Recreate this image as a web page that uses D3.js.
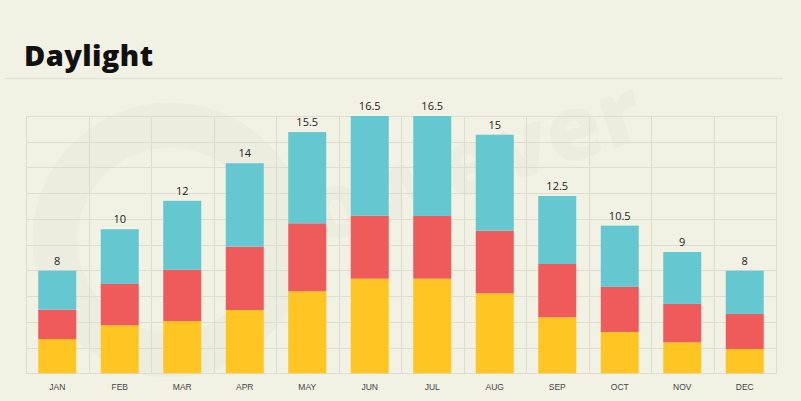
<!DOCTYPE html>
<html>
<head>
<meta charset="utf-8">
<script src="https://cdn.jsdelivr.net/npm/d3@7"></script>
<style>
  html, body { margin: 0; padding: 0; background: #F2F2E4; }
  svg { display: block; }
</style>
</head>
<body>
<svg id="chart" width="801" height="401"></svg>
<script>
// ---- data ----
const months = ["JAN","FEB","MAR","APR","MAY","JUN","JUL","AUG","SEP","OCT","NOV","DEC"];
const totalLabels = ["8","10","12","14","15.5","16.5","16.5","15","12.5","10.5","9","8"];
const seriesKeys = ["yellow","red","teal"];
const yellowValues = [2.2, 3.08, 3.35, 4.06, 5.26, 6.07, 6.07, 5.13, 3.59, 2.65, 1.99, 1.56];
const redValues    = [1.88, 2.65, 3.29, 4.06, 4.36, 4.04, 4.02, 4.01, 3.42, 2.89, 2.46, 2.24];
const tealValues   = [2.5, 3.51, 4.42, 5.35, 5.85, 6.39, 6.41, 6.16, 4.36, 3.93, 3.33, 2.78];
const yMax = 16.5;
const gridCount = 10;

const colors = { yellow: "#FFC522", red: "#EF5B5B", teal: "#65C8D1" };

const rows = months.map((m, i) => ({
  month: m, label: totalLabels[i],
  yellow: yellowValues[i], red: redValues[i], teal: tealValues[i]
}));

const svg = d3.select("#chart");

// faint watermark
const wm = svg.append("g");
wm.append("circle").attr("cx", 170).attr("cy", 240).attr("r", 115)
  .attr("fill", "none").attr("stroke", "#EDEDDF").attr("stroke-width", 45);
wm.append("text").attr("x", 455).attr("y", 200)
  .attr("transform", "rotate(-18,455,200)")
  .attr("text-anchor", "middle")
  .attr("font-family", "'Open Sans', sans-serif")
  .attr("font-weight", 800).attr("font-size", 90)
  .attr("fill", "#EDEDDF").text("nowever");

// title
svg.append("text").attr("x", 24).attr("y", 66)
  .attr("font-family", "'Open Sans', sans-serif").attr("font-weight", 800)
  .attr("font-size", 29).attr("letter-spacing", 0.4).attr("fill", "#111").text("Daylight");
svg.append("line").attr("x1", 5).attr("x2", 783).attr("y1", 78.5).attr("y2", 78.5)
  .attr("stroke", "#E2E2D5").attr("stroke-width", 1.5);

// scales
const plotLeft = 26, plotRight = 776, plotTop = 116, plotBottom = 373.3;
const x = d3.scaleBand().domain(months).range([plotLeft, plotRight])
  .paddingInner(0.392).paddingOuter(0.196);
const y = d3.scaleLinear().domain([0, yMax]).range([plotBottom, plotTop]);

// grid
const grid = svg.append("g");
const hVals = d3.range(gridCount + 1).map(i => i * yMax / gridCount);
grid.selectAll("line.h").data(hVals).join("line")
  .attr("x1", plotLeft).attr("x2", plotRight)
  .attr("y1", d => Math.round(y(d)) + 0.5).attr("y2", d => Math.round(y(d)) + 0.5)
  .attr("stroke", "#DCDCD2").attr("stroke-width", 1);
const vVals = months.map(m => x(m) - x.step() * x.paddingInner() / 2).concat([plotRight]);
grid.selectAll("line.v").data(vVals).join("line")
  .attr("x1", d => Math.round(d) + 0.5).attr("x2", d => Math.round(d) + 0.5)
  .attr("y1", plotTop).attr("y2", plotBottom)
  .attr("stroke", "#DCDCD2").attr("stroke-width", 1);

// stacked bars
const stack = d3.stack().keys(seriesKeys)(rows);
svg.append("g").selectAll("g").data(stack).join("g")
  .attr("fill", d => colors[d.key])
  .selectAll("rect").data(d => d).join("rect")
  .attr("x", d => x(d.data.month))
  .attr("width", x.bandwidth())
  .attr("y", d => y(d[1]))
  .attr("height", d => y(d[0]) - y(d[1]));

// value labels
svg.append("g").selectAll("text").data(stack[stack.length - 1]).join("text")
  .attr("x", d => x(d.data.month) + x.bandwidth() / 2)
  .attr("y", d => y(d[1]) - 6)
  .attr("text-anchor", "middle")
  .attr("font-family", "'Open Sans', sans-serif").attr("font-size", 11)
  .attr("fill", "#222").text(d => d.data.label);

// x axis labels
const xAxis = d3.axisBottom(x).tickSize(0).tickPadding(11);
const ax = svg.append("g").attr("transform", `translate(0,${plotBottom})`).call(xAxis);
ax.select(".domain").remove();
ax.selectAll("text").attr("font-family", "'Liberation Sans', Arial, sans-serif")
  .attr("font-size", 8.5).attr("fill", "#444");
</script>
</body>
</html>
